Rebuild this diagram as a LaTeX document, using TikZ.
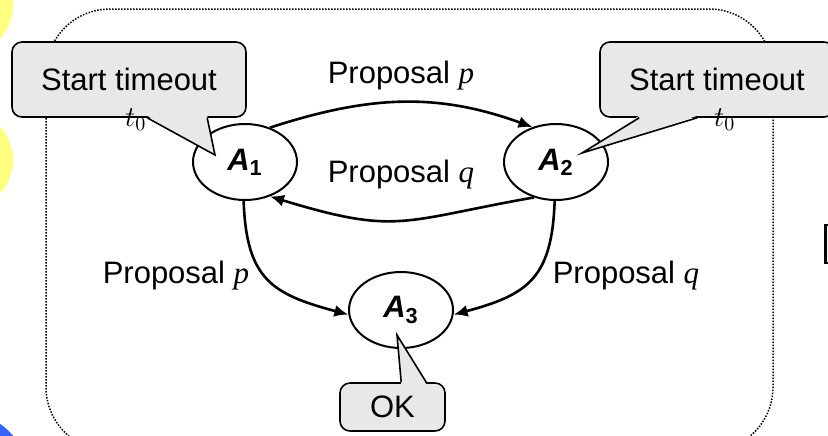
\documentclass[tikz,border=0pt]{standalone}
\usepackage[no-math]{fontspec}
\setmainfont{Liberation Sans}
\newfontfamily\serifit{Liberation Serif}
\usetikzlibrary{shapes, calc, arrows.meta}

\definecolor{boxGray}{RGB}{232,232,232}
\definecolor{dotYellow}{RGB}{255,255,128}
\definecolor{dotBlue}{RGB}{51,102,255}
\newcommand\bigfont{\fontsize{15.5pt}{18pt}\selectfont}

\begin{document}
\begin{tikzpicture}[
	x=0.5pt, y=-0.5pt,
	state/.style={ellipse, draw, fill=white, line width=1pt, minimum width=52pt, minimum height=38pt, inner sep=0pt, font=\bigfont\bfseries\itshape},
	tbox/.style={draw, fill=boxGray, rounded corners=5pt, line width=0.8pt, minimum width=117pt, minimum height=37.5pt, inner sep=0pt, font=\bigfont},
	pointer/.style={line width=0.8pt, line join=miter},
	arrow/.style={-{Latex[length=7pt, width=6pt]}, line width=1.3pt},
	lbl/.style={anchor=base, font=\bigfont},
	tlbl/.style={anchor=base west, font=\fontsize{14pt}{16pt}\selectfont},
	frame/.style={line width=0.75pt, dash pattern=on 0.75pt off 0.75pt, rounded corners=32pt}
	]

	\useasboundingbox (0,0) rectangle (828,435);
	\clip (0,0) rectangle (828,435);

	% slide leftovers at the edges
	\fill[dotYellow] (-37,5) circle[radius=25pt];
	\fill[dotYellow] (-37,160) circle[radius=25pt];
	\fill[dotBlue] (-35,475) circle[radius=31pt];
	\draw[line width=1.2pt] (825.5,225) rectangle (845,263);

	% group frame
	\draw[frame] (46,9) rectangle (773,451);

	% states
	\node[state] (A1) at (245,162) {A\textsubscript{\upshape 1}};
	\node[state] (A2) at (556,162) {A\textsubscript{\upshape 2}};
	\node[state] (A3) at (401,310) {A\textsubscript{\upshape 3}};

	% proposals
	\draw[arrow] (A1.54) to[out=18, in=160] (A2.124);
	\draw[arrow] (A2.238) to[out=190, in=-17, looseness=1.3] (A1.306);
	\draw[arrow] (A1.268) to[out=-88, in=165, looseness=1.3] (A3.185);
	\draw[arrow] (A2.268) to[out=-92, in=15, looseness=1.3] (A3.355);

	\node[lbl] (lp12) at (401,83) {Proposal {\serifit\itshape p}};
	\node[lbl] (lq21) at (401,182) {Proposal {\serifit\itshape q}};
	\node[lbl] (lp13) at (176,283) {Proposal {\serifit\itshape p}};
	\node[lbl] (lq23) at (626,283) {Proposal {\serifit\itshape q}};

	% callouts
	\node[tbox] (to1) at (129,79.5) {Start timeout};
	\node[tbox] (to2) at (717,79.5) {Start timeout};
	\node[tbox, minimum width=52.5pt, minimum height=24pt] (ok) at (392.5,407) {OK};

	\coordinate (P1a) at ($(to1.south west) + (136,0)$);
	\coordinate (P1b) at ($(to1.south west) + (196,0)$);
	\coordinate (P1t) at ($(A1) + (-30,-7)$);
	\fill[boxGray] ($(P1a) + (0,-2)$) -- (P1t) -- ($(P1b) + (0,-2)$) -- cycle;
	\draw[pointer] (P1a) -- (P1t) -- (P1b);

	\coordinate (P2a) at ($(to2.south west) + (40,0)$);
	\coordinate (P2b) at ($(to2.south west) + (98,0)$);
	\coordinate (P2t) at ($(A2) + (26,-9)$);
	\fill[boxGray] ($(P2a) + (0,-2)$) -- (P2t) -- ($(P2b) + (0,-2)$) -- cycle;
	\draw[pointer] (P2a) -- (P2t) -- (P2b);

	\coordinate (P3a) at ($(ok.north west) + (62,0)$);
	\coordinate (P3b) at ($(ok.north west) + (87,0)$);
	\coordinate (P3t) at ($(A3) + (-4,25)$);
	\fill[boxGray] ($(P3a) + (0,2)$) -- (P3t) -- ($(P3b) + (0,2)$) -- cycle;
	\draw[pointer] (P3a) -- (P3t) -- (P3b);

	\node[tlbl] (t1) at (118,126) {$t_0$};
	\node[tlbl] (t2) at (707,126) {$t_0$};
\end{tikzpicture}
\end{document}
